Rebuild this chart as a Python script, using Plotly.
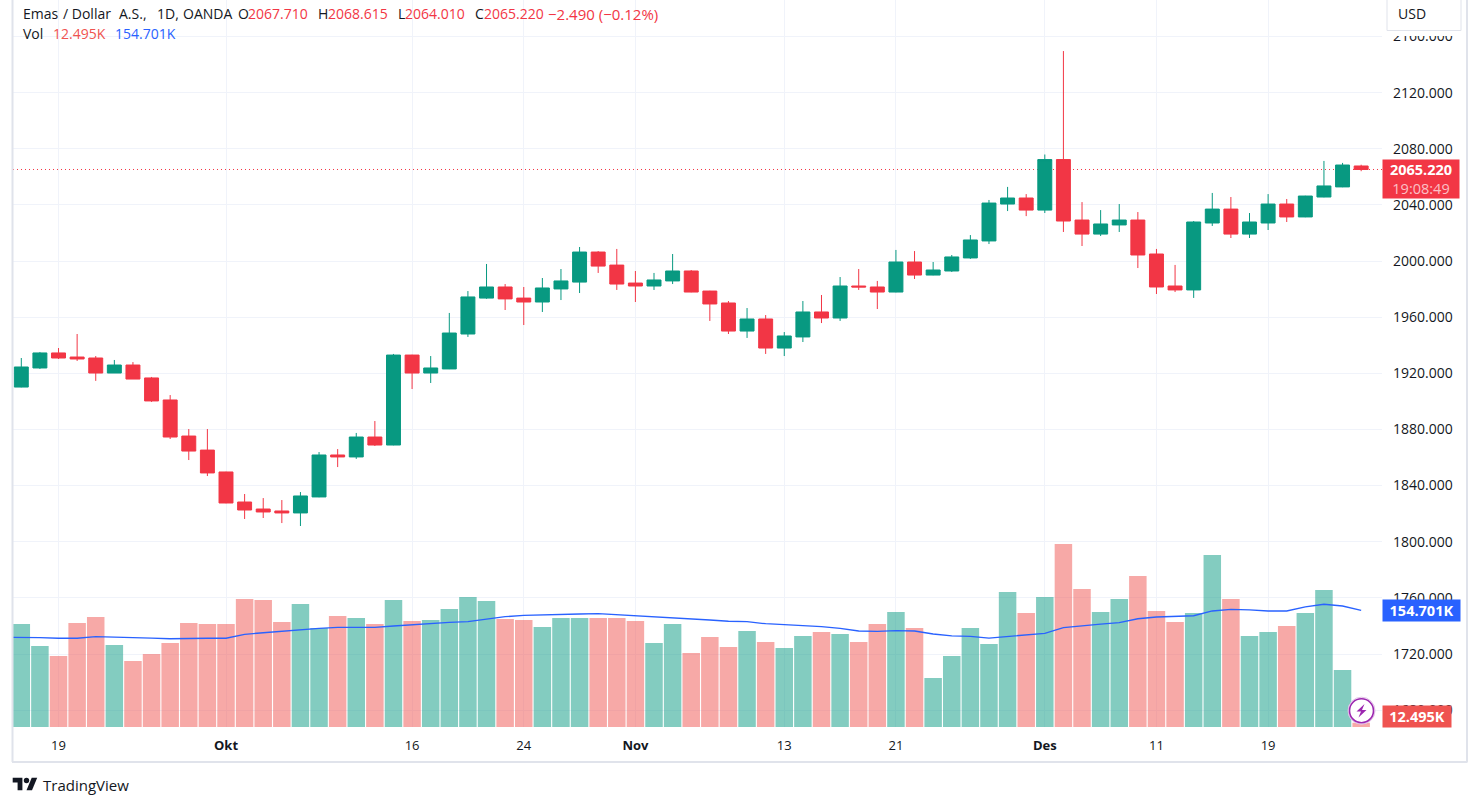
"""Gold / USD daily candles with volume, TradingView look"""

import pandas as pd
import plotly.graph_objs as go

# one bar per weekday from 15 Sep 2023
dates = [d.strftime("%Y-%m-%d") for d in pd.bdate_range("2023-09-15", periods=73)]
# the average starts one day off screen, so its line reaches the left edge
ma_dates = ["2023-09-14"] + dates

opens = [1910.2, 1923.8, 1934.5, 1931.6, 1930.9, 1920.2, 1925.9, 1916.7, 1901.0, 1875.3,
         1865.3, 1849.7, 1828.3, 1823.3, 1821.9, 1820.5, 1831.9, 1861.8, 1860.4, 1874.6,
         1868.9, 1933.0, 1920.2, 1923.1, 1948.0, 1973.6, 1981.5, 1973.6, 1970.8, 1980.1,
         1985.0, 2006.4, 1997.1, 1984.3, 1982.2, 1985.8, 1992.9, 1978.6, 1970.1, 1950.1,
         1958.7, 1938.0, 1945.9, 1963.7, 1959.4, 1982.2, 1981.5, 1977.9, 1999.3, 1990.0,
         1992.9, 2002.2, 2014.3, 2040.6, 2044.9, 2036.3, 2072.3, 2029.2, 2019.2, 2025.7,
         2029.2, 2005.0, 1982.2, 1979.4, 2027.1, 2037.0, 2019.2, 2027.1, 2040.6, 2031.4,
         2045.6, 2052.8, 2067.71]
highs = [1930.9, 1935.2, 1938.0, 1948.0, 1932.3, 1929.5, 1928.0, 1917.4, 1904.5, 1880.3,
         1880.3, 1849.9, 1834.0, 1831.1, 1829.7, 1835.4, 1863.9, 1866.0, 1877.5, 1886.0,
         1933.8, 1933.2, 1932.3, 1963.0, 1978.6, 1997.9, 1983.6, 1981.5, 1987.9, 1994.3,
         2010.0, 2007.1, 2008.6, 1992.9, 1991.5, 2005.0, 1993.6, 1978.8, 1971.5, 1966.5,
         1961.5, 1949.4, 1971.5, 1975.8, 1988.6, 1994.3, 1985.8, 2007.9, 2007.1, 1999.3,
         2004.3, 2018.5, 2043.5, 2052.8, 2047.7, 2075.9, 2149.6, 2042.0, 2036.3, 2040.6,
         2034.9, 2008.6, 1997.2, 2028.5, 2048.5, 2045.6, 2034.2, 2047.7, 2044.2, 2046.5,
         2071.3, 2069.9, 2068.615]
lows = [1910.0, 1923.1, 1930.2, 1928.8, 1914.6, 1920.2, 1915.9, 1899.6, 1873.2, 1858.2,
        1846.8, 1827.4, 1816.2, 1816.9, 1813.3, 1811.2, 1831.7, 1853.2, 1859.0, 1868.2,
        1868.7, 1908.8, 1913.1, 1923.0, 1945.9, 1973.0, 1965.1, 1954.4, 1963.7, 1972.2,
        1977.2, 1991.5, 1979.4, 1970.8, 1979.4, 1983.6, 1977.7, 1957.3, 1948.0, 1945.2,
        1933.8, 1932.3, 1942.3, 1955.8, 1957.3, 1979.4, 1965.8, 1977.7, 1987.2, 1989.8,
        1992.2, 2001.5, 2012.1, 2035.6, 2032.0, 2034.2, 2020.7, 2010.7, 2017.8, 2020.7,
        1995.0, 1976.5, 1977.9, 1973.7, 2025.0, 2016.4, 2016.4, 2022.1, 2027.8, 2031.2,
        2045.4, 2052.6, 2064.01]
closes = [1924.5, 1934.5, 1930.9, 1930.2, 1920.2, 1925.9, 1915.9, 1900.3, 1874.6, 1864.6,
          1849.0, 1827.6, 1822.6, 1821.2, 1820.5, 1832.6, 1861.8, 1860.4, 1874.6, 1868.9,
          1933.0, 1920.2, 1923.8, 1948.7, 1974.4, 1981.5, 1973.0, 1970.8, 1980.8, 1985.8,
          2006.4, 1996.4, 1983.6, 1982.2, 1986.5, 1992.9, 1977.9, 1969.4, 1950.1, 1958.7,
          1938.0, 1946.6, 1963.7, 1959.4, 1982.2, 1981.5, 1977.9, 1999.3, 1990.0, 1993.6,
          2002.9, 2015.0, 2041.3, 2044.9, 2036.3, 2072.3, 2028.5, 2019.2, 2026.4, 2029.2,
          2004.3, 1981.5, 1979.4, 2027.8, 2037.0, 2019.2, 2027.8, 2040.6, 2031.4, 2046.3,
          2053.5, 2068.4, 2065.22]

# volume and its moving average, in thousands
volume = [137.3, 109.5, 96.9, 138.6, 146.2, 110.8, 90.5, 99.4, 113.3, 138.6,
          137.3, 137.3, 169.0, 167.7, 139.9, 162.6, 132.3, 147.5, 144.9, 137.3,
          167.7, 141.1, 142.4, 156.3, 171.5, 166.4, 143.7, 142.4, 133.6, 144.9,
          144.9, 144.9, 144.9, 141.1, 113.3, 137.3, 100.7, 120.9, 108.3, 128.5,
          114.6, 107.0, 122.2, 127.2, 124.7, 114.6, 137.3, 152.5, 132.3, 69.0,
          96.9, 132.3, 112.1, 177.8, 151.3, 171.5, 238.5, 181.6, 152.5, 169.0,
          198.1, 153.8, 139.9, 151.3, 224.6, 169.0, 122.2, 127.2, 134.8, 151.3,
          180.4, 79.2, 12.495]
volume_ma = [120.6, 120.5, 120.0, 119.3, 119.3, 121.3, 120.9, 120.9, 119.6, 118.7, 119.3,
             119.3, 119.3, 124.3, 126.3, 128.1, 130.6, 131.9, 133.2, 133.6, 133.2,
             134.8, 136.5, 138.2, 139.5, 140.3, 143.7, 146.6, 148.3, 149.1, 149.6,
             150.0, 150.4, 149.1, 148.3, 146.6, 145.3, 144.0, 142.4, 140.8, 140.3,
             137.7, 136.5, 135.2, 133.9, 131.9, 128.5, 128.1, 128.9, 128.5, 124.7,
             122.2, 121.8, 119.6, 121.8, 123.4, 125.6, 132.7, 135.2, 137.3, 139.0,
             144.0, 146.2, 147.1, 147.8, 153.8, 155.9, 155.3, 153.8, 153.8, 158.9,
             162.3, 160.1, 154.701]

tick_dates = ["2023-09-19", "2023-10-02", "2023-10-16", "2023-10-24", "2023-11-01",
              "2023-11-13", "2023-11-21", "2023-12-01", "2023-12-11", "2023-12-19"]
tick_names = ["19", "<b>Okt</b>", "16", "24", "<b>Nov</b>", "13", "21", "<b>Des</b>", "11", "19"]
price_ticks = [1680, 1720, 1760, 1800, 1840, 1880, 1920, 1960, 2000, 2040, 2080, 2120, 2160]

UP = "#089981"
DOWN = "#f23645"
GRID = "#f0f3fa"
BORDER = "#e0e3eb"
TEXT = "#131722"
FONT = "Open Sans"
W, H = 1480, 806
LEFT, RIGHT, BOTTOM = 13, 1382, 727


def px(x):
    return (x - LEFT) / (RIGHT - LEFT)


def py(y):
    return (BOTTOM - y) / BOTTOM


def label(text, x, y, color=TEXT, size=14, **kw):
    return dict(text=text, xref="paper", yref="paper", x=px(x), y=py(y), xanchor="left",
                yanchor="middle", showarrow=False, font=dict(family=FONT, size=size, color=color), **kw)


def line(x0, y0, x1, y1, color=BORDER, width=2):
    return dict(type="line", xref="paper", yref="paper", x0=px(x0), y0=py(y0), x1=px(x1), y1=py(y1),
                line=dict(color=color, width=width), layer="above")


def poly(points, color):
    path = "M" + "L".join("{:.5f},{:.5f}".format(px(a), py(b)) for a, b in points) + "Z"
    return dict(type="path", path=path, xref="paper", yref="paper", fillcolor=color,
                line=dict(width=0), layer="above")


def circle(cx, cy, r, fill, edge, width):
    return dict(type="circle", xref="paper", yref="paper", x0=px(cx - r), y0=py(cy + r), x1=px(cx + r), y1=py(cy - r),
                fillcolor=fill, line=dict(color=edge, width=width), layer="above")


vol_colors = ["rgba(8,153,129,0.5)" if c >= o else "rgba(239,83,80,0.5)" for o, c in zip(opens, closes)]

fig = go.Figure()
fig.add_trace(go.Candlestick(x=dates, open=opens, high=highs, low=lows, close=closes, whiskerwidth=0,
                             increasing=dict(line=dict(color=UP, width=1), fillcolor=UP),
                             decreasing=dict(line=dict(color=DOWN, width=1), fillcolor=DOWN),
                             hoverinfo="skip", showlegend=False))
fig.add_trace(go.Bar(x=dates, y=volume, yaxis="y2", width=0.94, marker=dict(color=vol_colors, line=dict(width=0)),
                     hoverinfo="skip", showlegend=False))
fig.add_trace(go.Scatter(x=ma_dates, y=volume_ma, yaxis="y2", mode="lines", line=dict(color="#2962ff", width=1.3),
                         hoverinfo="skip", showlegend=False))

shapes = [
    dict(type="line", xref="paper", yref="y", x0=0, x1=1, y0=closes[-1], y1=closes[-1], layer="below",
         line=dict(color=DOWN, width=1, dash="1px,3px")),
    line(12.5, 0, 12.5, 762),
    line(12, 762, 1467.5, 762),
    line(1467, 0, 1467, 762),
    # blank strip behind the USD button hides the top price label
    poly([(1383, -2), (1466, -2), (1466, 36), (1383, 36)], "white"),
    dict(type="path", xref="paper", yref="paper", fillcolor="white", layer="above",
         line=dict(color=BORDER, width=1),
         path="M{},{}L{},{}L{},{}L{},{}Z".format(px(1387), py(-2), px(1461), py(-2), px(1461), py(30.5), px(1387), py(30.5))),
    # lightning badge
    circle(1361.5, 710.7, 13.5, "white", "#e1bee7", 1),
    circle(1361.5, 710.7, 12, "white", "#9c27b0", 1.6),
    poly([(1364.5, 704), (1356.5, 711.5), (1361, 711.5), (1358.5, 717.5), (1366.5, 710), (1362, 710)], "#9c27b0"),
    # TradingView logo
    poly([(22.4, 790.2), (17.6, 790.2), (17.6, 782.6), (12.7, 782.6), (12.7, 777.8), (22.4, 777.8)], TEXT),
    poly([(32, 790.2), (26.5, 790.2), (31.7, 777.8), (37.2, 777.8)], TEXT),
    circle(26.5, 780.5, 2.7, TEXT, TEXT, 0),
]

annotations = [
    label("Emas", 21, 14),
    label("/ Dollar", 61, 14),
    label("A.S.,", 117, 14),
    label("1D,", 155, 14),
    label("OANDA", 181, 14),
    label("O", 236, 14),
    label("2067.710", 246, 14, DOWN),
    label("H", 316, 14),
    label("2068.615", 326, 14, DOWN),
    label("L", 396, 14),
    label("2064.010", 403, 14, DOWN),
    label("C", 473, 14),
    label("2065.220", 482, 14, DOWN),
    label("\u22122.490 (\u22120.12%)", 546, 14, DOWN, 15),
    label("Vol", 21, 34),
    label("12.495K", 51, 34, "#ef5350"),
    label("154.701K", 113, 34, "#2962ff"),
    label("USD", 1396, 14),
    label("TradingView", 41, 785, TEXT, 15),
    label("<b>2065.220</b><br><span style='color:#fbc0c5'>19:08:49</span>", 1382, 178.5, "white", 14.5,
          bgcolor=DOWN, width=74, height=36, align="center", borderpad=1),
    label("<b>154.701K</b>", 1382, 610.5, "white", 14.5, bgcolor="#2962ff", width=75, height=19, align="center", borderpad=1),
    label("<b>12.495K</b>", 1382, 716.5, "white", 14.5, bgcolor="#ef5350", width=66, height=19, align="center", borderpad=1),
]

fig.update_layout(
    width=W, height=H, autosize=False,
    margin=dict(l=LEFT, r=W - RIGHT, t=0, b=H - BOTTOM),
    paper_bgcolor="white", plot_bgcolor="white",
    boxgap=0.25, boxgroupgap=0, barmode="overlay", showlegend=False,
    font=dict(family=FONT, size=13, color=TEXT),
    xaxis=dict(type="category", categoryorder="array", categoryarray=ma_dates,
               range=[0.554, 74.12], rangeslider=dict(visible=False),
               tickmode="array", tickvals=tick_dates, ticktext=tick_names,
               showgrid=True, gridcolor=GRID, gridwidth=1, showline=False, zeroline=False,
               ticks="", ticklabelstandoff=9),
    yaxis=dict(range=[1667.99, 2185.98], side="right", tickmode="array", tickvals=price_ticks,
               tickformat=".3f", tickfont=dict(size=14), showgrid=True, gridcolor=GRID, gridwidth=1,
               showline=False, zeroline=False, ticks="", ticklabelstandoff=10),
    yaxis2=dict(range=[7.05, 926.7], overlaying="y", side="right", showgrid=False, showticklabels=False,
                zeroline=False, ticks=""),
    shapes=shapes,
    annotations=annotations,
)

fig.write_html("out.html", config=dict(displayModeBar=False),
               post_script="document.body.style.margin='0';document.body.style.overflow='hidden';")
